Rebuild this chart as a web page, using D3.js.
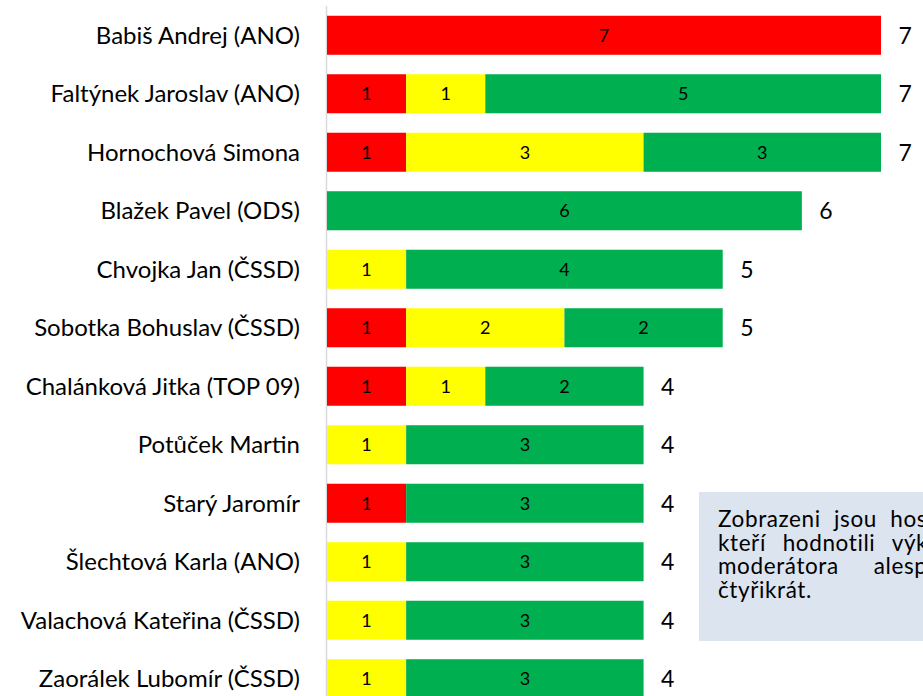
<!DOCTYPE html>
<html>
<head>
<meta charset="utf-8">
<script src="https://cdn.jsdelivr.net/npm/d3@7"></script>
<style>
  body { margin: 0; background: #fff; overflow: hidden; }
  svg { display: block; font-family: Lato, "Open Sans", sans-serif; }
</style>
</head>
<body>
<svg width="923" height="696"></svg>
<script>
// guests, ordered as in the chart
var guests = [
  "Babiš Andrej (ANO)",
  "Faltýnek Jaroslav (ANO)",
  "Hornochová Simona",
  "Blažek Pavel (ODS)",
  "Chvojka Jan (ČSSD)",
  "Sobotka Bohuslav (ČSSD)",
  "Chalánková Jitka (TOP 09)",
  "Potůček Martin",
  "Starý Jaromír",
  "Šlechtová Karla (ANO)",
  "Valachová Kateřina (ČSSD)",
  "Zaorálek Lubomír (ČSSD)"
];
// ratings per guest
var red    = [7, 1, 1, 0, 0, 1, 1, 0, 1, 0, 0, 0];
var yellow = [0, 1, 3, 0, 1, 2, 1, 1, 0, 1, 1, 1];
var green  = [0, 5, 3, 6, 4, 2, 2, 3, 3, 3, 3, 3];

var seriesKeys = ["red", "yellow", "green"];
var colors = {red: "#ff0000", yellow: "#ffff00", green: "#00b050"};

var noteLines = ["Zobrazeni jsou hosté,", "kteří hodnotili výkon", "moderátora alespoň", "čtyřikrát."];

var rows = guests.map(function(g, i) {
  return {name: g, red: red[i], yellow: yellow[i], green: green[i], total: red[i] + yellow[i] + green[i]};
});

var svg = d3.select("svg");

var x = d3.scaleLinear().domain([0, 7]).range([327, 881]);
var y = d3.scaleBand()
  .domain(guests)
  .range([6, 708])
  .paddingInner(0.333)
  .paddingOuter(0.1667);

var stacked = d3.stack().keys(seriesKeys)(rows);

// vertical axis line
svg.append("line")
  .attr("x1", 326.5).attr("x2", 326.5)
  .attr("y1", 6).attr("y2", 696)
  .attr("stroke", "#d9d9d9")
  .attr("stroke-width", 1.5);

// category labels
svg.append("g").selectAll("text")
  .data(guests)
  .enter().append("text")
    .attr("x", 300)
    .attr("y", function(d) { return y(d) + y.bandwidth() / 2; })
    .attr("dy", "0.35em")
    .attr("text-anchor", "end")
    .style("font-size", "24px")
    .style("fill", "#000")
    .text(function(d) { return d; });

// stacked bars
var layer = svg.append("g").selectAll("g")
  .data(stacked)
  .enter().append("g")
    .attr("fill", function(d) { return colors[d.key]; });

layer.selectAll("rect")
  .data(function(d) { return d; })
  .enter().append("rect")
    .attr("x", function(d) { return x(d[0]); })
    .attr("y", function(d) { return y(d.data.name); })
    .attr("width", function(d) { return x(d[1]) - x(d[0]); })
    .attr("height", y.bandwidth());

// values inside segments
layer.selectAll("text")
  .data(function(d) { return d.filter(function(s) { return s[1] > s[0]; }); })
  .enter().append("text")
    .attr("x", function(d) { return (x(d[0]) + x(d[1])) / 2; })
    .attr("y", function(d) { return y(d.data.name) + y.bandwidth() / 2; })
    .attr("dy", "0.36em")
    .attr("text-anchor", "middle")
    .style("font-size", "18px")
    .style("fill", "#000")
    .text(function(d) { return d[1] - d[0]; });

// totals
svg.append("g").selectAll("text")
  .data(rows)
  .enter().append("text")
    .attr("x", function(d) { return x(d.total) + 17.5; })
    .attr("y", function(d) { return y(d.name) + y.bandwidth() / 2; })
    .attr("dy", "0.36em")
    .style("font-size", "23px")
    .style("fill", "#000")
    .text(function(d) { return d.total; });

// note box (runs off the right edge)
var note = svg.append("g");
note.append("rect")
  .attr("x", 699).attr("y", 492)
  .attr("width", 300).attr("height", 149)
  .attr("fill", "#dce4f0");

// justify every line but the last to the text width of the box
var noteFont = "22.5px";
var noteWidth = 236;

noteLines.forEach(function(line, i) {
  var words = line.split(" ");
  var t = note.append("text")
    .attr("y", 527 + i * 23.7)
    .style("font-size", noteFont)
    .style("letter-spacing", "0.6px")
    .style("fill", "#000");
  var spans = words.map(function(w) {
    return t.append("tspan").text(w);
  });
  var widths = spans.map(function(s) { return s.node().getComputedTextLength(); });
  var gap = (i < noteLines.length - 1 && words.length > 1)
    ? (noteWidth - d3.sum(widths)) / (words.length - 1)
    : 6;
  var cx = 718;
  spans.forEach(function(s, j) {
    s.attr("x", cx);
    cx += widths[j] + gap;
  });
});
</script>
</body>
</html>
